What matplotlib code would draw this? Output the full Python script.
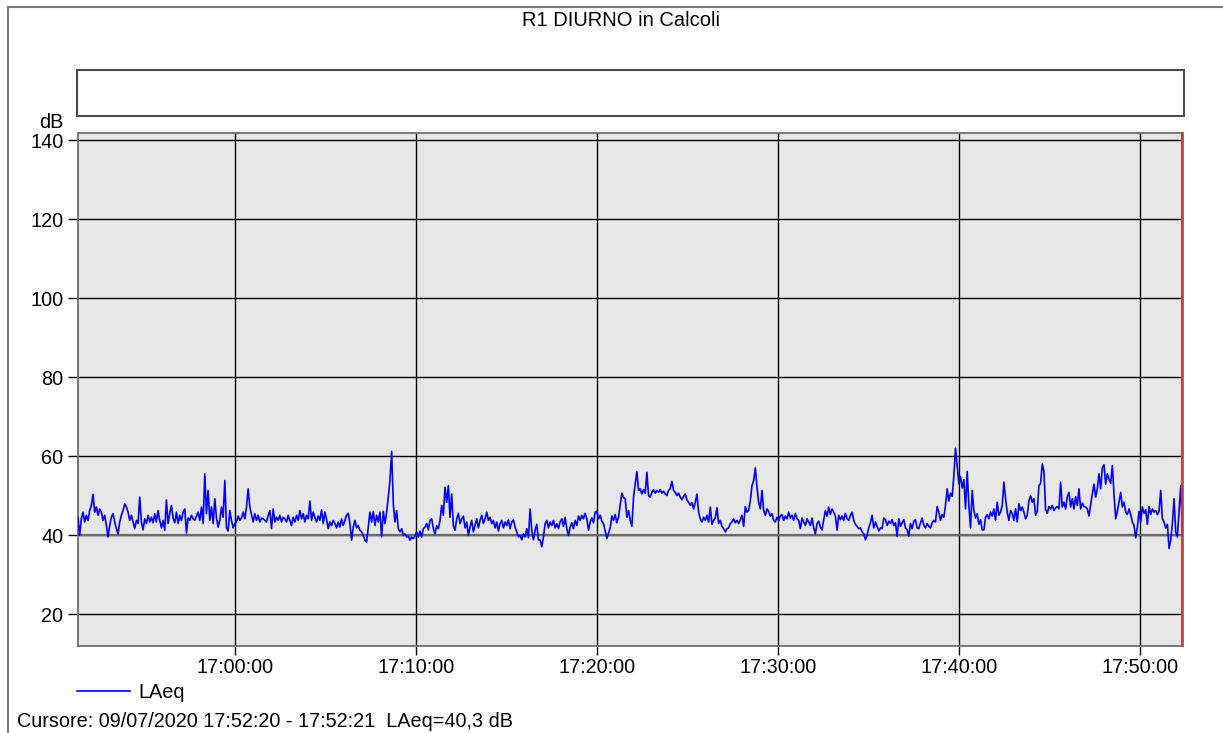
import numpy as np
import matplotlib
matplotlib.use("Agg")
import matplotlib.pyplot as plt
import matplotlib.dates as mdates
from matplotlib.lines import Line2D
from matplotlib.patches import Rectangle

plt.rcParams['font.family'] = ['Liberation Sans', 'DejaVu Sans']

# ---------------- data ----------------
title = "R1 DIURNO in Calcoli"
series_name = "LAeq"
y_unit = "dB"
cursor_text = "Cursore: 09/07/2020 17:52:20 - 17:52:21  LAeq=40,3 dB"
start_time = np.datetime64("2020-07-09T16:51:21")
end_time = np.datetime64("2020-07-09T17:52:21")
y_ticks = [20, 40, 60, 80, 100, 120, 140]

laeq_part1 = [
    44.5, 39.9, 44.1, 45.8, 43.3, 45.0, 43.7, 46.2, 47.5, 50.3,
    45.8, 47.1, 45.0, 46.6, 45.8, 43.7, 45.0, 42.4, 39.5, 42.4,
    44.5, 45.4, 43.3, 41.6, 40.3, 43.3, 45.0, 46.2, 47.9, 47.1,
    45.8, 43.7, 45.0, 43.3, 41.6, 43.7, 42.9, 49.6, 43.3, 41.3,
    44.1, 42.9, 45.0, 43.3, 44.5, 43.1, 45.4, 43.3, 46.2, 43.7,
    41.8, 43.7, 41.2, 48.9, 42.9, 45.4, 47.5, 44.3, 43.1, 45.8,
    42.9, 45.0, 43.7, 45.8, 46.6, 40.5, 44.3, 43.7, 45.0, 44.1,
    43.7, 44.8, 45.8, 43.7, 47.1, 42.9, 55.5, 45.4, 51.3, 43.7,
    47.1, 42.9, 49.2, 44.3, 42.0, 43.7, 47.1, 44.5, 53.8, 41.8,
    41.0, 46.2, 43.7, 41.8, 42.9, 43.3, 44.8, 43.7, 44.3, 45.8,
    44.1, 47.1, 51.7, 47.1, 45.2, 43.3, 45.4, 43.7, 45.0, 43.3,
    44.3,
]
laeq_part2 = [
    44.1, 43.7, 43.3, 45.0, 46.2, 41.6, 46.6, 43.3, 44.5, 43.7,
    45.0, 43.3, 44.5, 44.1, 43.3, 45.0, 43.7, 42.4, 44.5, 43.3,
    45.0, 43.7, 46.2, 44.1, 45.4, 43.3, 45.0, 44.1, 48.6, 43.7,
    45.8, 44.5, 43.3, 44.8, 43.7, 46.4, 42.9, 45.8, 43.9, 41.6,
    43.3, 42.4, 43.7, 42.9, 41.8, 43.3, 42.0, 44.1, 42.4, 43.7,
    45.0, 45.5, 42.9, 38.7, 42.0, 43.7, 41.8, 42.4, 41.2, 40.8,
    39.9, 38.7, 38.2, 42.0, 45.8, 43.3, 46.0, 42.4, 45.0, 43.3,
    45.8, 39.5, 46.0, 42.9, 45.8, 49.6, 53.8, 61.2, 47.9, 43.3,
    46.2, 41.6, 40.8, 41.6, 39.9, 40.3, 39.5, 39.7, 38.7, 39.5,
    39.1, 39.7, 40.8, 39.5, 41.0, 39.5, 41.6, 42.0, 42.9, 41.3,
    43.7, 44.1, 41.6, 40.3, 42.4, 41.6, 43.7, 47.5,
]
laeq_part3 = [
    45.0, 52.1, 48.3, 52.5, 44.5, 50.4, 42.4, 41.2, 44.1, 45.5,
    42.9, 44.1, 44.8, 41.8, 43.3, 39.9, 42.0, 43.7, 40.8, 42.4,
    44.1, 41.8, 43.7, 45.0, 42.9, 44.1, 45.8, 43.7, 44.5, 42.9,
    43.7, 41.8, 43.3, 41.0, 42.9, 43.7, 41.8, 43.3, 42.4, 43.9,
    41.6, 43.3, 43.9, 42.0, 40.8, 39.5, 39.9, 38.8, 40.3, 39.5,
    41.6, 39.3, 46.6, 41.2, 38.8, 41.2, 42.7, 38.8, 38.7, 37.0,
    39.5, 42.9, 43.7, 41.8, 43.3, 42.4, 43.7, 41.8, 42.9, 41.6,
    43.3, 44.1, 42.2, 44.5, 41.6, 39.9, 42.0, 43.1, 41.6, 43.7,
    42.4, 44.8, 43.7, 45.0, 44.1, 45.5, 44.1, 41.2, 43.3, 44.3,
    43.1, 45.8, 46.0, 44.1, 45.0, 43.5, 42.9, 41.0, 39.1, 40.5,
    41.8, 44.8, 43.7, 45.2, 43.1, 44.5, 47.5, 50.6,
]
laeq_part4 = [
    49.5, 49.2, 44.5, 46.2, 43.7, 42.2, 49.6, 52.9, 56.1, 51.3,
    51.7, 50.4, 51.5, 50.6, 55.9, 50.0, 49.6, 50.8, 51.5, 50.6,
    51.3, 50.8, 51.5, 50.6, 51.1, 50.4, 50.0, 51.3, 51.7, 53.6,
    51.3, 50.8, 50.0, 50.6, 49.6, 48.9, 49.8, 50.4, 48.9, 48.3,
    47.5, 48.2, 46.6, 48.3, 50.4, 45.8, 44.1, 43.3, 44.5, 43.7,
    45.0, 43.3, 47.1, 42.7, 43.7, 44.3, 46.9, 42.9, 43.7, 42.2,
    41.6, 40.8, 41.6, 41.8, 42.9, 43.3, 44.1, 43.1, 43.7, 42.9,
    43.9, 45.0, 42.2, 47.2, 45.8, 46.2, 48.7, 52.5, 53.8, 57.0,
    52.1, 48.3, 46.6, 51.3, 46.2, 45.0, 46.6, 46.0, 44.8, 45.4,
    43.7, 43.3, 44.5, 43.7, 44.8, 45.2, 43.7, 44.8, 44.1, 45.8,
    44.3, 45.0, 43.7, 45.5, 44.1, 43.7, 41.6, 44.3,
]
laeq_part5 = [
    43.3, 42.4, 44.1, 43.3, 42.4, 44.3, 41.8, 40.3, 42.9, 43.5,
    42.0, 41.3, 43.9, 46.2, 44.8, 47.1, 45.2, 46.6, 45.8, 44.8,
    41.2, 45.0, 43.9, 44.8, 43.7, 45.5, 44.1, 43.7, 45.0, 45.8,
    43.7, 42.7, 42.2, 41.6, 41.8, 40.8, 40.3, 38.8, 39.9, 41.8,
    43.1, 45.0, 41.8, 43.3, 42.2, 41.0, 41.8, 41.6, 44.3, 43.9,
    42.4, 43.5, 42.9, 43.9, 42.4, 43.1, 39.7, 44.1, 42.2, 43.1,
    43.9, 41.8, 41.3, 39.7, 42.9, 41.6, 43.5, 43.9, 41.8, 41.6,
    43.1, 44.3, 42.4, 41.8, 42.9, 42.2, 41.8, 43.1, 43.7, 43.3,
    47.2, 45.8, 43.7, 45.2, 44.5, 47.5, 51.7, 48.6, 50.6, 49.8,
    55.0, 62.0, 57.6, 52.9, 54.8, 51.9, 54.0, 46.6, 56.1, 47.5,
    41.8, 51.3, 46.2, 44.3, 45.4, 42.7, 43.9, 41.3,
]
laeq_part6 = [
    41.3, 44.5, 45.2, 44.1, 45.8, 44.8, 46.6, 43.7, 48.3, 45.0,
    45.8, 47.5, 53.4, 49.2, 45.8, 43.7, 46.2, 45.5, 43.7, 46.6,
    43.3, 47.9, 46.2, 47.1, 45.8, 44.1, 45.0, 48.7, 50.0, 48.3,
    49.2, 45.0, 46.0, 52.5, 53.1, 58.0, 56.1, 46.4, 45.5, 47.2,
    46.6, 47.5, 46.2, 46.9, 47.2, 46.6, 53.4, 47.1, 48.3, 46.6,
    49.7, 50.8, 47.1, 49.2, 46.6, 49.7, 47.5, 51.7, 46.6, 48.1,
    47.2, 47.1, 46.6, 44.8, 47.7, 50.4, 52.9, 49.6, 51.7, 55.5,
    51.7, 57.0, 57.8, 52.9, 55.5, 54.2, 53.1, 57.6, 50.4, 44.1,
    46.0, 48.3, 50.8, 47.1, 48.3, 45.8, 45.2, 46.6, 45.2, 43.3,
    42.4, 39.3, 42.0, 46.0, 43.3, 47.1, 45.5, 46.4, 42.7, 47.2,
    45.2, 46.6, 45.8, 46.2, 45.2, 46.0, 51.3, 44.1, 43.3, 41.8,
    42.7, 36.6, 38.7, 42.9, 49.2, 40.8, 39.5, 46.2, 52.5, 40.3,
]

laeq = np.array(laeq_part1 + laeq_part2 + laeq_part3 +
                laeq_part4 + laeq_part5 + laeq_part6)
n = len(laeq)
total_ms = (end_time - start_time) / np.timedelta64(1, 'ms')
offsets = np.round(np.linspace(0, total_ms, n)).astype('timedelta64[ms]')
times = start_time.astype('datetime64[ms]') + offsets

# ---------------- figure ----------------
W, H = 1223, 733
FS = 14.3
fig = plt.figure(figsize=(W / 100, H / 100), dpi=100)
fig.patch.set_facecolor('white')

# outer frame (left and top edges)
fig.add_artist(Line2D([7.5 / W, 7.5 / W], [0, 1 - 7 / H], color='#7a7a7a', lw=1.5))
fig.add_artist(Line2D([7.5 / W, 1], [1 - 7 / H, 1 - 7 / H], color='#7a7a7a', lw=1.5))

# title
fig.text(620.5 / W, 1 - 20.5 / H, title, ha='center', va='center', fontsize=14.5, color='black')

# empty header box
fig.add_artist(Rectangle((77 / W, 1 - 116 / H), 1107 / W, 46 / H,
                         transform=fig.transFigure, facecolor='white',
                         edgecolor='#4a4a4a', lw=1.5))

ax = fig.add_axes([78 / W, 1 - 646 / H, 1105 / W, 513 / H])
ax.set_facecolor('#e6e6e6')
ax.set_axisbelow(True)
ax.grid(True, color='black', lw=1.0)
ax.axhline(40, color='#6a6a6a', lw=1.6, zorder=1)

line, = ax.plot(times, laeq, color='#0000ff', lw=1.2, zorder=3)
ax.axvline(end_time, color='#ff2020', lw=1.3, zorder=4)

ax.set_xlim(start_time, end_time + np.timedelta64(2, 's'))
ax.set_ylim(11.9, 141.8)
ax.set_yticks(y_ticks)
ax.xaxis.set_major_locator(mdates.MinuteLocator(byminute=range(0, 60, 10)))
ax.xaxis.set_major_formatter(mdates.DateFormatter('%H:%M:%S'))

ax.tick_params(axis='y', length=7.2, width=1, color='black', labelsize=FS, pad=3.4, labelcolor='black')
ax.tick_params(axis='x', length=6.5, width=1, color='black', labelsize=FS, pad=2.4, labelcolor='black')
for sp in ax.spines.values():
    sp.set_color('#6e6e6e')
    sp.set_linewidth(1.3)

fig.text(63.3 / W, 1 - 123 / H, y_unit, ha='right', va='center', fontsize=FS, color='black')

fig.legend(handles=[line], labels=[series_name], loc='center left',
           bbox_to_anchor=(77 / W, 1 - 692.7 / H), frameon=False, fontsize=FS,
           handlelength=2.67, handletextpad=0.4, borderpad=0, borderaxespad=0)

fig.text(17 / W, 1 - 721.5 / H, cursor_text, ha='left', va='center', fontsize=FS, color='black')

fig.savefig('out.png', dpi=100)
